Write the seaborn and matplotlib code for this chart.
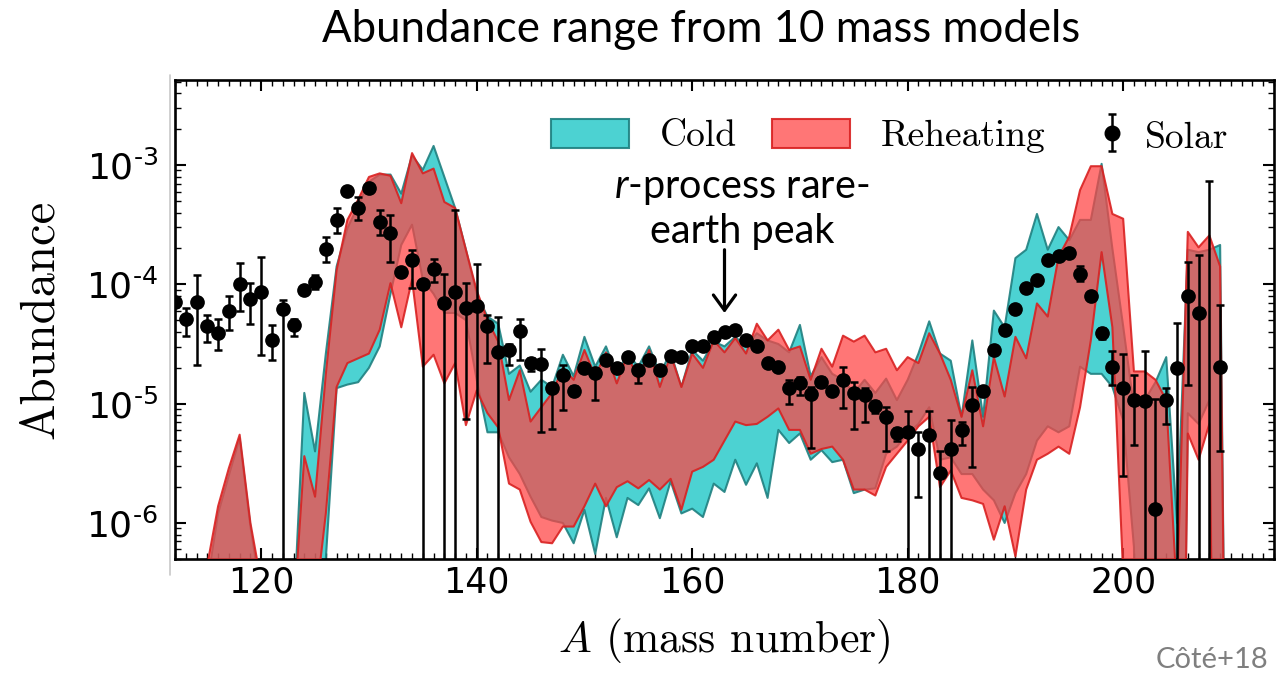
import numpy as np
import pandas as pd
import matplotlib
matplotlib.use("Agg")
import matplotlib.pyplot as plt
import seaborn as sns
from matplotlib.ticker import (MultipleLocator, LogLocator, FixedLocator,
                               FixedFormatter, NullFormatter)
from matplotlib.patches import Patch
from matplotlib.lines import Line2D
from matplotlib.font_manager import FontProperties

# ---------------------------------------------------------------- data
# Mass numbers covered by the nucleosynthesis bands
mass_number = np.arange(112, 211)

# log10 abundance range (min / max over 10 mass models), cold r-process
cold_hi_log = [
    -12, -12, -12, -6.5, -5.92, -5.60, -5.29, -6.03, -6.6, -12,
    -12, -6.8, -4.91, -5.40, -4.58, -3.85, -3.53, -3.34, -3.14, -3.08,
    -3.08, -3.24, -2.92, -3.04, -2.84, -3.10, -3.36, -3.71, -4.08, -4.27,
    -4.33, -4.75, -4.68, -4.90, -4.80, -4.86, -4.59, -4.77, -4.44, -4.69,
    -4.52, -4.76, -4.58, -4.69, -4.52, -4.75, -4.57, -4.86, -4.55, -4.64,
    -4.48, -4.52, -4.44, -4.52, -4.41, -4.47, -4.50, -4.57, -4.34, -4.77,
    -4.61, -4.75, -4.80, -4.91, -4.80, -4.91, -4.79, -4.97, -4.80, -4.58,
    -4.31, -4.58, -4.64, -5.11, -4.47, -5.11, -4.22, -4.36, -3.78, -3.71,
    -3.41, -3.71, -3.52, -3.63, -3.46, -3.46, -2.99, -3.70, -4.35, -5.03,
    -4.97, -4.82, -4.61, -6.0, -3.71, -3.73, -3.71, -3.67, -12]
cold_lo_log = [
    -12, -12, -12, -12, -12, -12, -12, -12, -12, -12,
    -12, -12, -12, -6.7, -6.3, -4.87, -4.84, -4.82, -4.70, -4.52,
    -4.08, -3.67, -3.50, -3.96, -4.08, -4.24, -4.24, -4.30, -4.80, -5.24,
    -5.24, -5.45, -5.59, -5.78, -5.95, -5.98, -6.00, -6.17, -5.89, -6.26,
    -5.79, -6.12, -5.79, -5.85, -5.71, -5.96, -5.65, -5.92, -5.88, -5.95,
    -5.67, -5.74, -5.47, -5.68, -5.50, -5.79, -5.22, -5.33, -5.25, -5.47,
    -5.39, -5.49, -5.47, -5.75, -5.72, -5.71, -5.42, -5.36, -5.25, -5.17,
    -5.03, -5.47, -5.45, -5.59, -5.59, -5.72, -5.81, -6.00, -5.75, -5.59,
    -5.31, -5.19, -5.24, -5.19, -4.69, -4.75, -4.75, -4.86, -5.14, -6.2,
    -12, -12, -12, -12, -5.08, -5.17, -4.97, -12, -12]

# log10 abundance range, r-process with reheating
reh_hi_log = [
    -12, -12, -12, -6.35, -5.86, -5.54, -5.26, -6.00, -6.5, -12,
    -12, -6.8, -5.44, -5.78, -4.75, -3.88, -3.46, -3.29, -3.10, -3.07,
    -3.09, -3.32, -2.90, -3.07, -3.03, -3.31, -3.36, -3.71, -4.05, -4.30,
    -4.48, -4.97, -4.72, -5.15, -5.03, -4.91, -4.70, -4.80, -4.55, -4.77,
    -4.57, -4.83, -4.59, -4.80, -4.55, -4.86, -4.59, -4.86, -4.58, -4.70,
    -4.47, -4.57, -4.45, -4.58, -4.33, -4.47, -4.38, -4.55, -4.52, -4.80,
    -4.54, -4.69, -4.43, -4.48, -4.43, -4.57, -4.54, -4.72, -4.61, -4.66,
    -4.41, -4.58, -4.80, -5.11, -4.72, -5.19, -4.61, -4.94, -4.44, -4.62,
    -4.16, -4.27, -3.77, -3.60, -3.21, -3.01, -3.01, -3.41, -3.45, -4.73,
    -4.73, -4.80, -4.97, -6.6, -3.56, -3.69, -3.59, -3.85, -12]
reh_lo_log = [
    -12, -12, -12, -12, -12, -12, -12, -12, -12, -12,
    -12, -12, -12, -6.7, -5.92, -4.86, -4.66, -4.62, -4.58, -4.38,
    -3.99, -4.36, -3.96, -4.69, -4.59, -4.83, -4.66, -5.18, -4.89, -5.08,
    -5.20, -5.67, -5.72, -5.99, -6.16, -6.17, -6.03, -6.03, -5.86, -5.67,
    -5.86, -5.70, -5.65, -5.71, -5.64, -5.72, -5.63, -5.89, -5.57, -5.53,
    -5.47, -5.31, -5.15, -5.18, -5.17, -5.11, -5.04, -5.22, -5.22, -5.42,
    -5.38, -5.36, -5.47, -5.72, -5.72, -5.77, -5.53, -5.42, -5.31, -5.19,
    -5.11, -5.70, -5.56, -5.79, -5.81, -5.84, -6.14, -5.86, -6.28, -5.72,
    -5.47, -5.42, -5.36, -5.42, -5.03, -4.47, -3.73, -4.36, -6.42, -12,
    -12, -12, -12, -12, -5.25, -5.47, -5.17, -12, -12]

# Solar r-process residuals (log10) with error-bar limits
solar_mass = np.arange(112, 210)
solar_log = [
    -4.15, -4.29, -4.15, -4.35, -4.41, -4.22, -4.00, -4.12, -4.06, -4.47,
    -4.21, -4.34, -4.05, -3.98, -3.70, -3.46, -3.22, -3.36, -3.19, -3.48,
    -3.57, -3.90, -3.80, -4.00, -3.87, -4.16, -4.06, -4.20, -4.18, -4.35,
    -4.57, -4.55, -4.39, -4.66, -4.67, -4.87, -4.76, -4.89, -4.70, -4.74,
    -4.63, -4.70, -4.61, -4.72, -4.63, -4.72, -4.60, -4.61, -4.52, -4.52,
    -4.44, -4.40, -4.38, -4.47, -4.52, -4.66, -4.69, -4.87, -4.83, -4.92,
    -4.82, -4.89, -4.80, -4.91, -4.93, -5.02, -5.11, -5.25, -5.24, -5.38,
    -5.26, -5.58, -5.38, -5.22, -5.01, -4.89, -4.55, -4.38, -4.21, -4.03,
    -3.96, -3.80, -3.76, -3.74, -3.91, -4.10, -4.41, -4.69, -4.87, -4.97,
    -4.98, -5.88, -4.97, -4.70, -4.10, -4.24, -12, -4.69]
solar_hi_log = [
    -4.11, -4.20, -3.92, -4.26, -4.29, -4.10, -3.82, -3.99, -3.77, -4.34,
    -4.13, -4.29, -4.02, -3.92, -3.60, -3.36, -3.19, -3.27, -3.16, -3.38,
    -3.42, -3.87, -3.71, -3.97, -3.79, -3.91, -3.38, -3.99, -3.83, -4.26,
    -4.27, -4.50, -4.29, -4.62, -4.54, -4.83, -4.68, -4.85, -4.67, -4.71,
    -4.60, -4.67, -4.58, -4.69, -4.60, -4.69, -4.57, -4.58, -4.49, -4.49,
    -4.41, -4.37, -4.35, -4.44, -4.49, -4.63, -4.66, -4.80, -4.78, -4.86,
    -4.78, -4.86, -4.69, -4.82, -4.87, -4.98, -5.03, -5.20, -5.06, -5.24,
    -5.06, -5.40, -5.14, -5.15, -4.86, -4.86, -4.52, -4.35, -4.18, -4.00,
    -3.93, -3.77, -3.73, -3.71, -3.85, -4.07, -4.37, -4.56, -4.58, -4.76,
    -4.56, -4.96, -4.87, -4.32, -3.81, -3.75, -3.13, -4.17]
solar_lo_log = [
    -4.19, -4.43, -4.68, -4.48, -4.55, -4.38, -4.22, -4.33, -4.59, -4.63,
    -12, -4.43, -4.08, -4.04, -3.81, -3.57, -3.25, -3.46, -3.22, -3.59,
    -3.81, -3.93, -4.03, -12, -3.98, -12, -12, -5.13, -12, -4.66,
    -12, -4.68, -4.63, -4.73, -5.24, -5.21, -5.05, -4.93, -4.73, -4.97,
    -4.66, -4.73, -4.64, -4.83, -4.66, -4.75, -4.63, -4.64, -4.55, -4.55,
    -4.47, -4.43, -4.41, -4.50, -4.55, -4.69, -4.72, -5.00, -4.93, -5.37,
    -4.86, -4.92, -5.04, -5.21, -5.15, -5.08, -5.40, -5.31, -12, -5.78,
    -12, -12, -12, -5.35, -5.53, -4.92, -4.58, -4.41, -4.24, -4.06,
    -3.99, -3.83, -3.79, -3.77, -3.97, -4.13, -4.46, -4.84, -5.61, -5.35,
    -12, -12, -5.17, -12, -4.84, -12, -12, -5.40]

x_ticks = [120, 140, 160, 180, 200]
y_ticks = [1e-6, 1e-5, 1e-4, 1e-3]
y_ticklabels = [r"$10^{\text{-}6}$", r"$10^{\text{-}5}$",
                r"$10^{\text{-}4}$", r"$10^{\text{-}3}$"]

bands = pd.DataFrame({
    "A": mass_number,
    "cold_lo": 10.0 ** np.array(cold_lo_log),
    "cold_hi": 10.0 ** np.array(cold_hi_log),
    "reh_lo": 10.0 ** np.array(reh_lo_log),
    "reh_hi": 10.0 ** np.array(reh_hi_log),
})
solar = pd.DataFrame({
    "A": solar_mass,
    "value": 10.0 ** np.array(solar_log),
    "lo": 10.0 ** np.array(solar_lo_log),
    "hi": 10.0 ** np.array(solar_hi_log),
})

# ---------------------------------------------------------------- style
sns.set_style("ticks")
plt.rcParams["font.family"] = ["DejaVu Sans"]
plt.rcParams["text.color"] = "black"
plt.rcParams["axes.labelcolor"] = "black"
plt.rcParams["xtick.color"] = "black"
plt.rcParams["ytick.color"] = "black"
plt.rcParams["mathtext.fontset"] = "dejavusans"
plt.rcParams["mathtext.rm"] = "Lato"
plt.rcParams["mathtext.it"] = "Lato:italic"
plt.rcParams["mathtext.bf"] = "Lato:bold"

COLD_FACE = (0.0, 0.75, 0.75, 0.70)
COLD_EDGE = (0.12, 0.50, 0.50, 0.90)
REH_FACE = (1.0, 0.267, 0.267, 0.73)
REH_EDGE = (0.85, 0.13, 0.13, 0.90)

W, H = 1286, 678
fig = plt.figure(figsize=(W / 100, H / 100), dpi=100)
ax = fig.add_axes([175 / W, (H - 559) / H, 1099 / W, 479 / H])
ax.set_yscale("log")

# abundance bands
ax.fill_between(bands["A"], bands["cold_lo"], bands["cold_hi"],
                facecolor=COLD_FACE, edgecolor=COLD_EDGE, linewidth=1.5,
                zorder=2)
ax.fill_between(bands["A"], bands["reh_lo"], bands["reh_hi"],
                facecolor=REH_FACE, edgecolor=REH_EDGE, linewidth=1.5,
                zorder=3)

# solar residuals
yerr = [solar["value"] - solar["lo"], solar["hi"] - solar["value"]]
ax.errorbar(solar["A"], solar["value"], yerr=yerr, fmt="none", ecolor="k",
            elinewidth=1.8, capsize=3, capthick=1.8, zorder=4)
sns.scatterplot(data=solar, x="A", y="value", color="k", s=112,
                linewidth=0, zorder=5, ax=ax, legend=False)

ax.set_xlim(112, 214)
ax.set_ylim(4.99e-7, 5.16e-3)

# axes, ticks
ax.xaxis.set_major_locator(FixedLocator(x_ticks))
ax.xaxis.set_minor_locator(MultipleLocator(1))
ax.yaxis.set_major_locator(FixedLocator(y_ticks))
ax.yaxis.set_major_formatter(FixedFormatter(y_ticklabels))
ax.yaxis.set_minor_locator(LogLocator(base=10, subs=np.arange(2, 10),
                                      numticks=30))
ax.yaxis.set_minor_formatter(NullFormatter())
ax.tick_params(which="both", direction="in", top=True, right=True,
               colors="k", labelcolor="k")
ax.tick_params(which="major", length=8, width=1.5)
ax.tick_params(which="minor", length=4, width=1.0)
ax.tick_params(axis="y", which="major", pad=12, labelsize=26)
ax.tick_params(axis="x", which="major", pad=5, labelsize=25)
for sp in ax.spines.values():
    sp.set_linewidth(1.9)
    sp.set_color("k")

ax.set_xlabel(r"$A$ (mass number)", fontfamily="cmr10", fontsize=31.5,
              math_fontfamily="cm", color="k")
ax.set_ylabel("Abundance", fontfamily="cmr10", fontsize=35, color="k")
ax.xaxis.set_label_coords(0.5, (559 - 617) / 479)
ax.yaxis.set_label_coords((63 - 175) / 1099, 0.5)

# annotation of the rare-earth peak
ax.annotate("", xy=(163, 10 ** -4.24), xytext=(163, 10 ** -3.71),
            arrowprops=dict(arrowstyle="->,head_length=0.55,head_width=0.4",
                            lw=2.3, color="k", shrinkA=0, shrinkB=0,
                            mutation_scale=20), zorder=6)
fig.text(742 / W, 1 - 210 / H, "$r$-process rare-\nearth peak",
         fontfamily="Lato", fontsize=28.5, ha="center", va="center",
         multialignment="center", linespacing=1.2, color="k",
         math_fontfamily="custom")

# legends
leg_font = FontProperties(family="cmr10", size=27)
band_handles = [
    Patch(facecolor=COLD_FACE, edgecolor=COLD_EDGE, linewidth=1.5),
    Patch(facecolor=REH_FACE, edgecolor=REH_EDGE, linewidth=1.5),
]
leg1 = fig.legend(band_handles, ["Cold", "Reheating"], ncol=2,
                  loc="center left", bbox_to_anchor=(551 / W, 1 - 136 / H),
                  frameon=False, prop=leg_font, handlelength=2.08,
                  handleheight=0.83, handletextpad=0.83, columnspacing=0.93,
                  borderpad=0, borderaxespad=0, labelcolor="k")
solar_proxy = ax.errorbar([np.nan], [np.nan], yerr=[[np.nan], [np.nan]],
                          fmt="o", color="k", ms=10.5, elinewidth=1.8,
                          capsize=3, capthick=1.8)
leg2 = fig.legend([solar_proxy], ["Solar"], loc="center left",
                  bbox_to_anchor=(1095 / W, 1 - 136 / H), frameon=False,
                  prop=leg_font, handlelength=0.9, handleheight=1.1,
                  handletextpad=0.43, borderpad=0, borderaxespad=0,
                  labelcolor="k")

# headings and credit
fig.text(701 / W, 1 - 30 / H, "Abundance range from 10 mass models",
         fontfamily="Lato", fontsize=31.5, ha="center", va="center",
         color="k")
fig.text(1268 / W, 1 - 660 / H, "Côté+18", fontfamily="Lato", fontsize=21,
         color="#7f7f7f", ha="right", va="center")

# thin border line on the left of the plot panel
fig.add_artist(Line2D([170 / W, 170 / W], [1 - 75 / H, 1 - 575 / H],
                      transform=fig.transFigure, color="#c8c8c8", lw=1.2))

fig.savefig("out.png", dpi=100)
